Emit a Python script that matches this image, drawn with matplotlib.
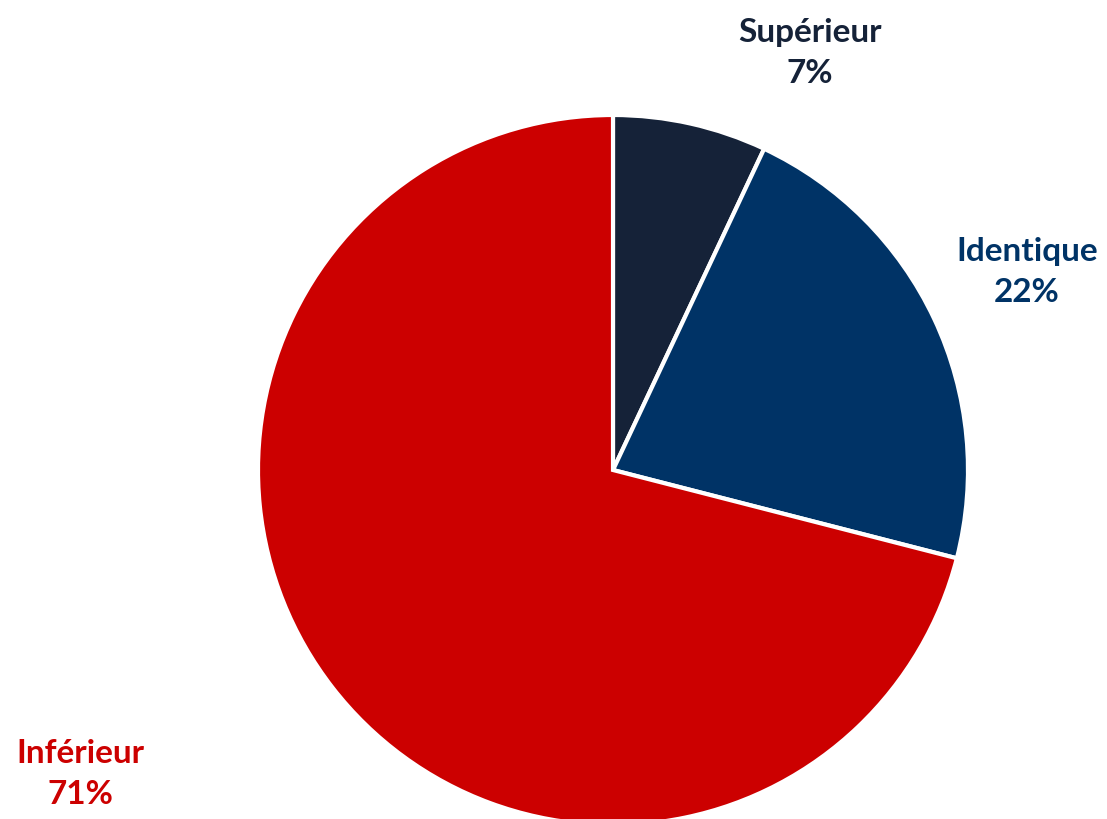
import matplotlib
matplotlib.use('Agg')
import matplotlib.pyplot as plt

# Data
labels = ['Supérieur', 'Identique', 'Inférieur']
values = [7, 22, 71]
colors = ['#152238', '#003366', '#CC0000']

# label anchor positions in pixel coords (from top-left)
label_pos = [(810, 53), (1027, 272), (80, 774)]

W, H = 1107, 819
fig = plt.figure(figsize=(W / 100, H / 100), dpi=100)
ax = fig.add_axes([0, 0, 1, 1])

ax.pie(values, colors=colors, startangle=90, counterclock=False,
       center=(613, H - 470), radius=355, frame=True,
       wedgeprops=dict(edgecolor='white', linewidth=3))
ax.set_xlim(0, W)
ax.set_ylim(0, H)
ax.set_aspect('equal')
ax.axis('off')

for lab, val, col, (x, y) in zip(labels, values, colors, label_pos):
    ax.text(x, H - y, f'{lab}\n{val}%', ha='center', va='center',
            fontsize=24, fontweight='bold', color=col, family='Lato',
            linespacing=1.5)

fig.savefig('out.png', dpi=100, facecolor='white')
